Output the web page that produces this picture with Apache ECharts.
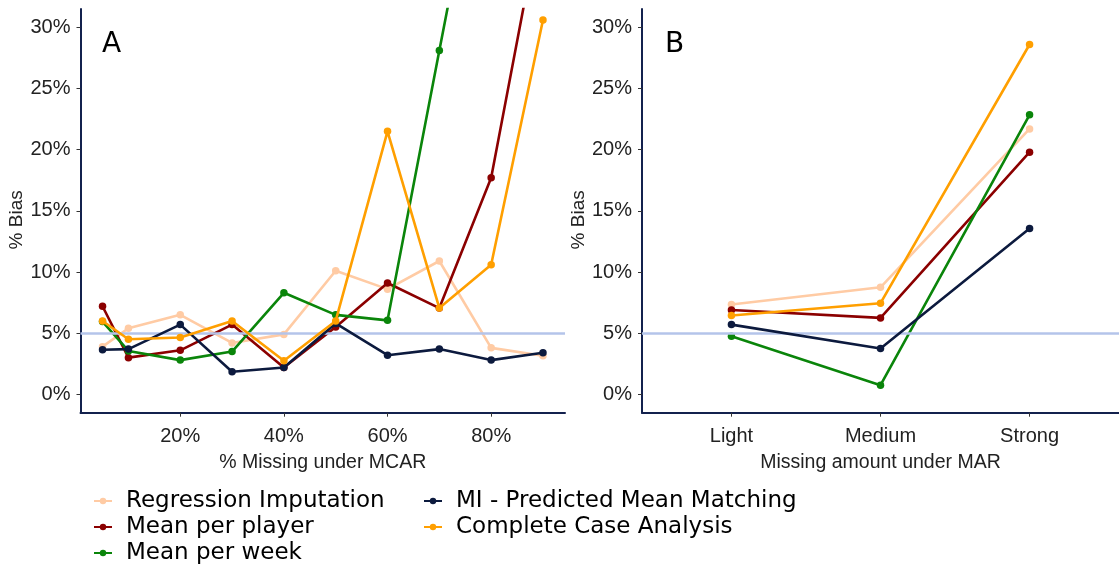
<!DOCTYPE html>
<html>
<head>
<meta charset="utf-8">
<script src="https://cdn.jsdelivr.net/npm/echarts@6/dist/echarts.min.js"></script>
<style>html,body{margin:0;padding:0;background:#fff}#c{width:1119px;height:565px}</style>
</head>
<body>
<div id="c"></div>
<script>
// ---- data ----
const methods = ['Regression Imputation', 'Mean per player', 'Mean per week', 'MI - Predicted Mean Matching', 'Complete Case Analysis'];
const pctMissing = [5, 10, 20, 30, 40, 50, 60, 70, 80, 90];
const regA    = [3.9, 5.4, 6.5, 4.2, 4.9, 10.1, 8.6, 10.9, 3.8, 3.15];
const playerA = [7.2, 3.0, 3.6, 5.7, 2.2, 5.5, 9.1, 7.05, 17.7, 40];
const weekA   = [5.95, 3.55, 2.8, 3.5, 8.3, 6.5, 6.05, 28.1, 50, 60];
const miA     = [3.65, 3.7, 5.7, 1.85, 2.2, 5.8, 3.2, 3.7, 2.8, 3.4];
const ccaA    = [6.0, 4.5, 4.65, 6.0, 2.75, 6.0, 21.5, 7.05, 10.6, 30.6];
const marCats = ['Light', 'Medium', 'Strong'];
const regB    = [7.35, 8.75, 21.7];
const playerB = [6.9, 6.25, 19.8];
const weekB   = [4.75, 0.75, 22.85];
const miB     = [5.7, 3.75, 13.55];
const ccaB    = [6.45, 7.45, 28.6];
const xTicksA = [20, 40, 60, 80];
const yTicks  = [0, 5, 10, 15, 20, 25, 30];
const refLine = 5;

// ---- styling ----
const colors = ['#FFCBA4', '#8B0000', '#0A850A', '#0C1A3E', '#FF9F00'];
const axisCol = '#13214d';
const tickFont = 'Liberation Sans, Arial, sans-serif';
const legFont = 'DejaVu Sans, sans-serif';

const seriesA = [regA, playerA, weekA, miA, ccaA];
const seriesB = [regB, playerB, weekB, miB, ccaB];

function yAxis(gi) {
  return {
    type: 'value', gridIndex: gi, min: -1.5, max: 31.5,
    name: '% Bias', nameLocation: 'middle', nameGap: 48, nameRotate: 90,
    nameTextStyle: {fontFamily: tickFont, fontSize: 19, color: '#222', padding: [0, 0, 0, -18]},
    splitLine: {show: false},
    axisLine: {show: true, lineStyle: {color: axisCol, width: 2}},
    axisTick: {show: true, length: 4, lineStyle: {color: '#333'}, customValues: yTicks},
    axisLabel: {customValues: yTicks, formatter: '{value}%', fontFamily: tickFont, fontSize: 20, color: '#222', margin: 10}
  };
}

const chart = echarts.init(document.getElementById('c'));
const series = [];
// reference line series (under everything)
[0, 1].forEach(gi => {
  series.push({
    type: 'line', xAxisIndex: gi, yAxisIndex: gi, data: [], silent: true, z: 1,
    markLine: {silent: true, symbol: 'none', label: {show: false},
      lineStyle: {color: '#B4C4EA', width: 2.5, type: 'solid'},
      data: [{yAxis: refLine}]}
  });
});
methods.forEach((m, i) => {
  series.push({
    name: m, type: 'line', xAxisIndex: 0, yAxisIndex: 0, z: 2 + i,
    data: pctMissing.map((x, k) => [x, seriesA[i][k]]),
    symbol: 'circle', symbolSize: 7.5, clip: true,
    lineStyle: {width: 2.6, color: colors[i]}, itemStyle: {color: colors[i]}
  });
  series.push({
    name: m, type: 'line', xAxisIndex: 1, yAxisIndex: 1, z: 2 + i,
    data: marCats.map((c, k) => [k + 1, seriesB[i][k]]),
    symbol: 'circle', symbolSize: 7.5, clip: true,
    lineStyle: {width: 2.6, color: colors[i]}, itemStyle: {color: colors[i]}
  });
});

const legendCommon = {
  orient: 'vertical', itemGap: 0, itemWidth: 18, itemHeight: 8, padding: 0, height: 90,
  textStyle: {fontFamily: legFont, fontSize: 23, color: '#000', lineHeight: 26, padding: [0, 0, 0, 9]}
};

chart.setOption({
  animation: false,
  color: colors,
  grid: [
    {left: 80.5, top: 9, width: 484.5, height: 403.7},
    {left: 642, top: 9, width: 481.6, height: 403.7}
  ],
  xAxis: [
    {type: 'value', gridIndex: 0, min: 0.75, max: 94.25,
     name: '% Missing under MCAR', nameLocation: 'middle', nameGap: 40,
     nameTextStyle: {fontFamily: tickFont, fontSize: 19.5, color: '#222'},
     splitLine: {show: false},
     axisLine: {show: true, onZero: false, lineStyle: {color: axisCol, width: 2}},
     axisTick: {show: true, length: 4, lineStyle: {color: '#333'}, customValues: xTicksA},
     axisLabel: {customValues: xTicksA, formatter: '{value}%', fontFamily: tickFont, fontSize: 20, color: '#222', margin: 14}},
    {type: 'value', gridIndex: 1, min: 0.4, max: 3.6,
     name: 'Missing amount under MAR', nameLocation: 'middle', nameGap: 40,
     nameTextStyle: {fontFamily: tickFont, fontSize: 19.5, color: '#222'},
     splitLine: {show: false},
     axisLine: {show: true, onZero: false, lineStyle: {color: axisCol, width: 2}},
     axisTick: {show: true, length: 4, lineStyle: {color: '#333'}, customValues: [1, 2, 3]},
     axisLabel: {customValues: [1, 2, 3], formatter: v => marCats[Math.round(v) - 1] || '',
       fontFamily: tickFont, fontSize: 20, color: '#222', margin: 14}}
  ],
  yAxis: [yAxis(0), yAxis(1)],
  legend: [
    Object.assign({left: 93, top: 488, data: methods.slice(0, 3)}, legendCommon),
    Object.assign({left: 423, top: 488, data: methods.slice(3)}, legendCommon)
  ],
  graphic: [
    {type: 'text', left: 102, top: 31, style: {text: 'A', font: '28px ' + legFont, fill: '#000'}},
    {type: 'text', left: 665, top: 31, style: {text: 'B', font: '28px ' + legFont, fill: '#000'}}
  ],
  series: series
});
</script>
</body>
</html>
